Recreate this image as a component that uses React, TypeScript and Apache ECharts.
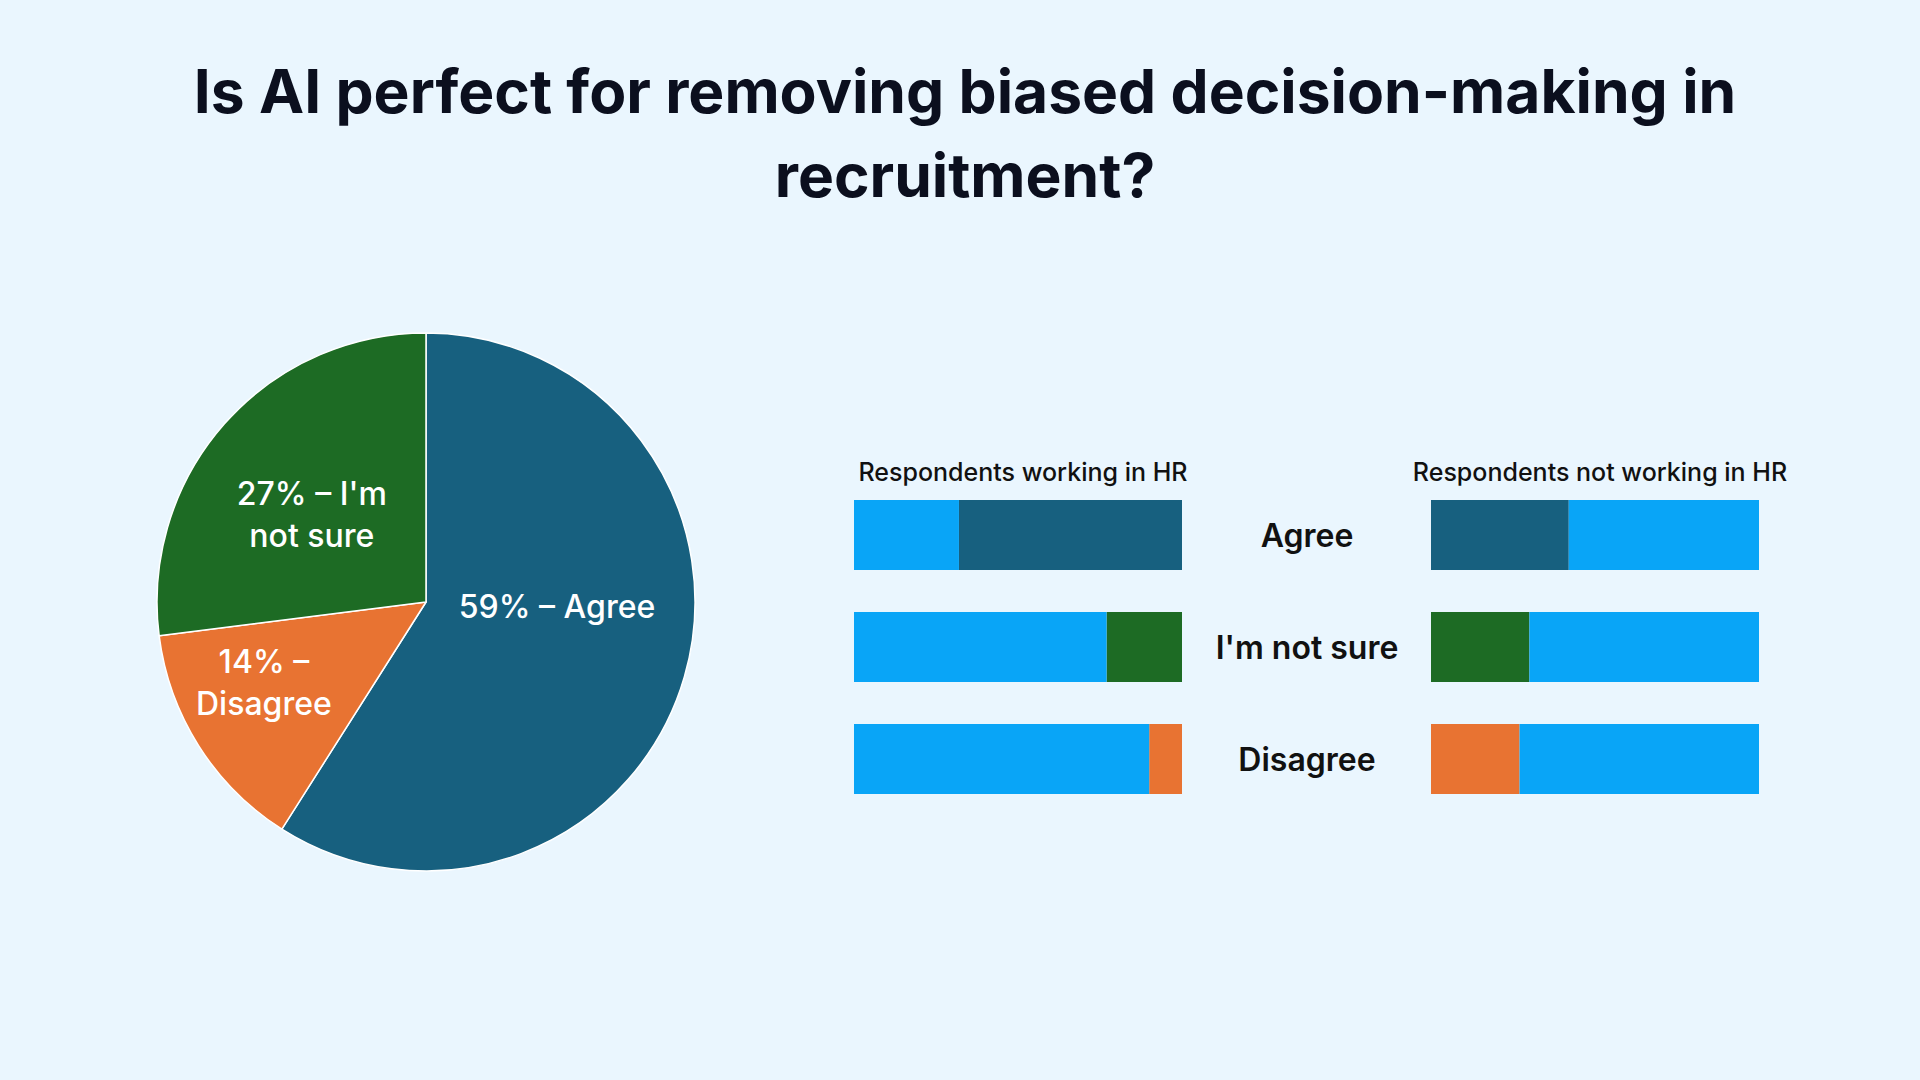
import React, { useEffect, useRef } from "react";
import * as echarts from "echarts";

const titleLines = ["Is AI perfect for removing biased decision-making in", "recruitment?"];
const categories = ["Agree", "I'm not sure", "Disagree"];
const overallValues = [59, 14, 27];
const overallNames = ["Agree", "Disagree", "I'm not sure"];
const overallLabels = ["59% – Agree", "14% –\nDisagree", "27% – I'm\nnot sure"];
const hrValues = [68, 23, 10];
const nonHrValues = [42, 30, 27];
const groupTitles = ["Respondents working in HR", "Respondents not working in HR"];

const BG = "#EAF6FE";
const DARK_BLUE = "#17607F";
const LIGHT_BLUE = "#09A5F7";
const GREEN = "#1D6B24";
const ORANGE = "#E87332";
const catColors = [DARK_BLUE, GREEN, ORANGE];
const pieColors = [DARK_BLUE, ORANGE, GREEN];
const FONT = "Inter, 'Noto Sans', sans-serif";

export default function App() {
  const ref = useRef<HTMLDivElement>(null);
  useEffect(() => {
    document.body.style.margin = "0";
    const chart = echarts.init(ref.current!, null, { renderer: "svg" });
    const labelOffsets = [[-1, -34], [-46, 7], [-11, 3]];
    chart.setOption({
      animation: false,
      backgroundColor: BG,
      title: [
        {
          text: titleLines.join("\n"),
          left: 960,
          top: 44,
          textAlign: "center",
          textStyle: { fontFamily: FONT, fontWeight: 700, fontSize: 60.5, lineHeight: 84, color: "#0B0F1E" },
        },
        {
          text: groupTitles[0],
          left: 1018,
          top: 454,
          textAlign: "center",
          textStyle: { fontFamily: FONT, fontWeight: 500, fontSize: 25, color: "#111" },
        },
        {
          text: groupTitles[1],
          left: 1595,
          top: 454,
          textAlign: "center",
          textStyle: { fontFamily: FONT, fontWeight: 500, fontSize: 25, color: "#111" },
        },
      ],
      grid: [
        { left: 854, width: 328, top: 479, height: 336 },
        { left: 1431, width: 328, top: 479, height: 336 },
      ],
      xAxis: [
        { type: "value", gridIndex: 0, min: 0, max: 100, inverse: true, show: false },
        { type: "value", gridIndex: 1, min: 0, max: 100, show: false },
      ],
      yAxis: [
        {
          type: "category",
          gridIndex: 0,
          data: categories,
          inverse: true,
          position: "right",
          axisLine: { show: false },
          axisTick: { show: false },
          axisLabel: {
            margin: 125,
            align: "center",
            fontFamily: FONT,
            fontWeight: 600,
            fontSize: 32,
            color: "#111",
          },
        },
        {
          type: "category",
          gridIndex: 1,
          data: categories,
          inverse: true,
          axisLine: { show: false },
          axisTick: { show: false },
          axisLabel: { show: false },
        },
      ],
      series: [
        {
          type: "pie",
          center: [426, 602],
          radius: [0, 269],
          startAngle: 90,
          clockwise: true,
          itemStyle: { borderColor: "#ffffff", borderWidth: 1.5 },
          label: {
            position: "inside",
            color: "#fff",
            fontFamily: FONT,
            fontWeight: 500,
            fontSize: 32,
            lineHeight: 42,
            align: "center",
          },
          labelLine: { show: false },
          data: overallValues.map((v, i) => ({
            value: v,
            name: overallNames[i],
            itemStyle: { color: pieColors[i] },
            label: { formatter: overallLabels[i], offset: labelOffsets[i] },
          })),
        },
        {
          type: "bar",
          xAxisIndex: 0,
          yAxisIndex: 0,
          stack: "hr",
          barWidth: 70,
          data: hrValues.map((v, i) => ({ value: v, itemStyle: { color: catColors[i] } })),
        },
        {
          type: "bar",
          xAxisIndex: 0,
          yAxisIndex: 0,
          stack: "hr",
          barWidth: 70,
          itemStyle: { color: LIGHT_BLUE },
          data: hrValues.map((v) => 100 - v),
        },
        {
          type: "bar",
          xAxisIndex: 1,
          yAxisIndex: 1,
          stack: "nonhr",
          barWidth: 70,
          data: nonHrValues.map((v, i) => ({ value: v, itemStyle: { color: catColors[i] } })),
        },
        {
          type: "bar",
          xAxisIndex: 1,
          yAxisIndex: 1,
          stack: "nonhr",
          barWidth: 70,
          itemStyle: { color: LIGHT_BLUE },
          data: nonHrValues.map((v) => 100 - v),
        },
      ],
    });
    return () => chart.dispose();
  }, []);
  return <div ref={ref} style={{ width: 1920, height: 1080 }} />;
}
